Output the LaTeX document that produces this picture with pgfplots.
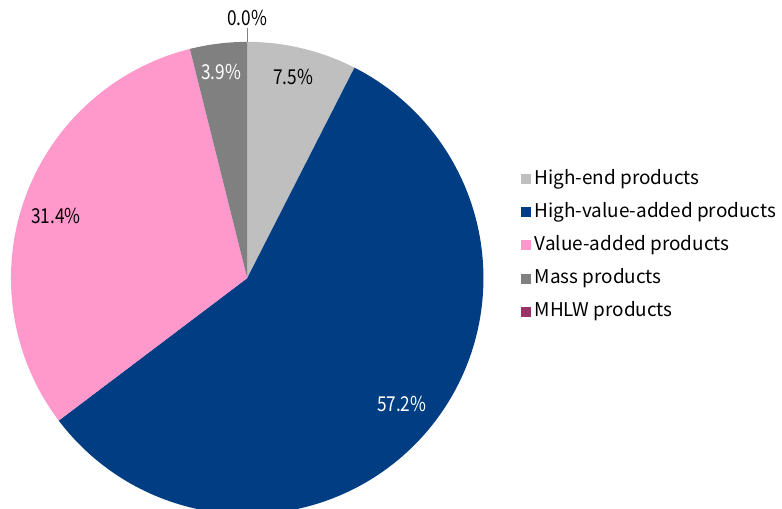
\documentclass[border=0pt]{standalone}
\usepackage{pgfplots}
\pgfplotsset{compat=1.18}
\usepackage{fontspec}
\setmainfont{Noto Sans CJK JP}
\definecolor{cHighEnd}{HTML}{BFBFBF}
\definecolor{cHighValue}{HTML}{003D82}
\definecolor{cValue}{HTML}{FF99CC}
\definecolor{cMass}{HTML}{808080}
\definecolor{cMHLW}{HTML}{993366}
% shares (%)
\def\pHighEnd{7.5}
\def\pHighValue{57.2}
\def\pValue{31.4}
\def\pMass{3.9}
\def\pMHLW{0.0}
\def\cx{248}\def\cy{231}\def\R{237}
\newcommand{\lbl}[1]{\scalebox{0.84}[1]{#1}}
\begin{document}
\begin{tikzpicture}
\pgfmathsetmacro{\aA}{90}
\pgfmathsetmacro{\aB}{\aA-3.6*\pHighEnd}
\pgfmathsetmacro{\aC}{\aB-3.6*\pHighValue}
\pgfmathsetmacro{\aD}{\aC-3.6*\pValue}
\pgfmathsetmacro{\aE}{\aD-3.6*\pMass}
\begin{axis}[
  x=0.5pt, y=0.5pt,
  xmin=0, xmax=782, ymin=0, ymax=510,
  hide axis, clip=true,
  legend style={draw=none, fill=none, at={(axis cs:516,343)}, anchor=north west,
    font=\fontsize{9.5pt}{10pt}\selectfont,
    nodes={text height=6.8pt, text depth=1.8pt, inner sep=0pt, anchor=west},
    row sep=8.0pt, /tikz/every odd column/.style={column sep=2pt}},
  legend cell align=left,
  legend image code/.code={\fill[#1] (0pt,-2.4pt) rectangle (5pt,2.6pt);},
]
\path (axis cs:0,0) rectangle (axis cs:782,510);
\addplot[draw=none, fill=cHighEnd, domain=\aB:\aA, samples=40, variable=\t, forget plot]
  ({\cx+\R*cos(\t)}, {\cy+\R*sin(\t)}) -- (axis cs:\cx,\cy) -- cycle;
\addplot[draw=none, fill=cHighValue, domain=\aC:\aB, samples=160, variable=\t, forget plot]
  ({\cx+\R*cos(\t)}, {\cy+\R*sin(\t)}) -- (axis cs:\cx,\cy) -- cycle;
\addplot[draw=none, fill=cValue, domain=\aD:\aC, samples=100, variable=\t, forget plot]
  ({\cx+\R*cos(\t)}, {\cy+\R*sin(\t)}) -- (axis cs:\cx,\cy) -- cycle;
\addplot[draw=none, fill=cMass, domain=\aE:\aD, samples=20, variable=\t, forget plot]
  ({\cx+\R*cos(\t)}, {\cy+\R*sin(\t)}) -- (axis cs:\cx,\cy) -- cycle;
% leader line for the 0.0% slice
\addplot[draw=cMass, line width=0.6pt, forget plot] coordinates {(248,468) (248,482)};
% labels
\node[font=\fontsize{10.3pt}{11pt}\selectfont] at (axis cs:248,492) {\lbl{0.0\%}};
\node[font=\fontsize{10.3pt}{11pt}\selectfont] at (axis cs:294,433) {\lbl{7.5\%}};
\node[font=\fontsize{10.3pt}{11pt}\selectfont, white] at (axis cs:222,438) {\lbl{3.9\%}};
\node[font=\fontsize{10.3pt}{11pt}\selectfont] at (axis cs:56,293) {\lbl{31.4\%}};
\node[font=\fontsize{10.3pt}{11pt}\selectfont, white] at (axis cs:403,105) {\lbl{57.2\%}};
% legend
\addlegendimage{fill=cHighEnd, draw=none}
\addlegendentry{High-end products}
\addlegendimage{fill=cHighValue, draw=none}
\addlegendentry{High-value-added products}
\addlegendimage{fill=cValue, draw=none}
\addlegendentry{Value-added products}
\addlegendimage{fill=cMass, draw=none}
\addlegendentry{Mass products}
\addlegendimage{fill=cMHLW, draw=none}
\addlegendentry{MHLW products}
\end{axis}
\end{tikzpicture}
\end{document}
